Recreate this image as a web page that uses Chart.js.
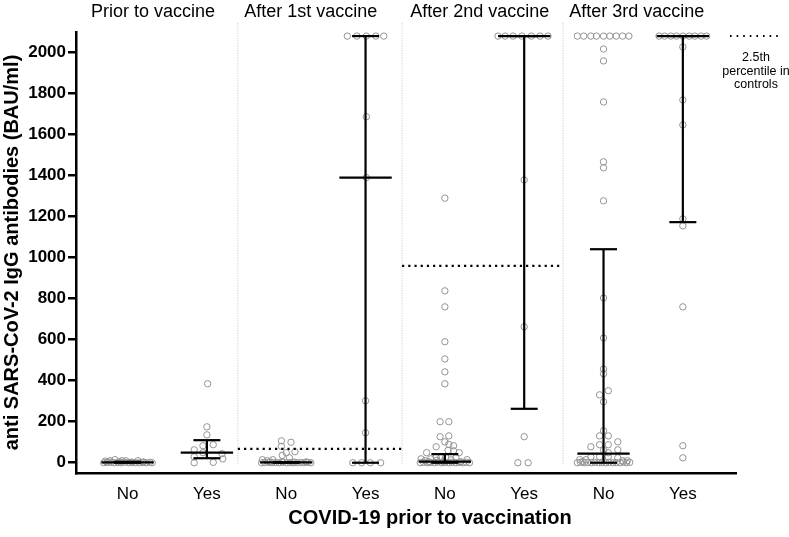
<!DOCTYPE html>
<html>
<head>
<meta charset="utf-8">
<script src="https://cdn.jsdelivr.net/npm/chart.js@4/dist/chart.umd.min.js"></script>
<style>
  html, body { margin: 0; padding: 0; background: #fff; }
</style>
</head>
<body>
<canvas id="c" width="789" height="537"></canvas>
<script>
// categories and panels
const categories = ['No', 'Yes', 'No', 'Yes', 'No', 'Yes', 'No', 'Yes'];
const panels = ['Prior to vaccine', 'After 1st vaccine', 'After 2nd vaccine', 'After 3rd vaccine'];
const yTicks = [0, 200, 400, 600, 800, 1000, 1200, 1400, 1600, 1800, 2000];

// individual subjects: [x (category + jitter), BAU/ml]
const priorNo = [[0.72,8],[0.78,10],[0.84,15],[0.93,10],[0.98,9],[1.13,10],
  [0.70,0],[0.74,1],[0.79,2],[0.83,0],[0.88,1],[0.92,0],[0.97,2],[1.02,0],[1.06,1],[1.10,0],[1.15,0],[1.19,1],[1.23,0],[1.28,2],[1.31,0],
  [0.75,4],[0.90,5],[1.05,3],[1.20,4]];
const priorYes = [[2.01,385],[2.0,175],[2.0,136],[1.95,83],[2.08,88],[1.84,63],[1.95,49],[2.19,44],[1.84,29],[2.2,19],[1.84,0],[2.08,2]];
const dose1No = [[2.94,107],[3.06,100],[2.94,80],[3.11,54],[3.0,49],[2.95,36],[3.04,24],[2.70,15],[2.83,15],[2.76,10],
  [2.69,0],[2.73,1],[2.78,2],[2.82,0],[2.87,1],[2.91,0],[2.96,2],[3.01,0],[3.05,1],[3.09,0],[3.14,0],[3.18,1],[3.22,0],[3.27,2],[3.31,0],
  [2.8,4],[2.95,5],[3.1,3],[3.25,4]];
const dose1Yes = [[3.77,2080],[3.89,2080],[4.01,2080],[4.13,2080],[4.23,2080],[4.01,1687],[4.01,1390],[4.0,302],[4.0,146],
  [3.84,0],[3.95,0],[4.06,0],[4.19,0]];
const dose2No = [[5,1290],[5,838],[5,760],[5,590],[5,506],[5,443],[5,385],[4.94,200],[5.05,200],[4.94,127],[5.05,131],[5,102],
  [4.89,78],[5.11,83],[5.05,90],[5.11,58],[5.04,60],[4.77,49],[5.18,49],[4.89,29],[4.95,30],[5.01,28],[5.14,24],[4.70,19],[4.82,19],
  [5.28,15],[4.75,10],[4.9,12],[5.08,14],
  [4.69,0],[4.73,2],[4.78,0],[4.82,1],[4.87,0],[4.91,3],[4.96,0],[5.0,1],[5.05,0],[5.09,2],[5.14,0],[5.18,1],[5.23,0],[5.27,2],[5.31,0],
  [4.8,5],[4.98,6],[5.2,5]];
const dose2Yes = [[5.67,2080],[5.76,2080],[5.86,2080],[5.97,2080],[6.09,2080],[6.20,2080],[6.30,2080],[6.0,1379],[6.0,663],[6.0,127],
  [5.92,0],[6.05,0]];
const dose3No = [[6.67,2080],[6.75,2080],[6.84,2080],[6.91,2080],[7.0,2080],[7.08,2080],[7.16,2080],[7.24,2080],[7.32,2080],
  [7,2017],[7,1959],[7,1759],[7,1467],[7,1438],[7,1277],[7,803],[7,608],[7,457],[7,434],[7.06,351],[6.95,331],[7,297],[7,156],
  [6.95,131],[7.06,131],[7.18,102],[6.84,78],[6.95,88],[7.06,88],[7.18,63],[7.06,49],[7.0,60],[6.84,29],[6.95,29],[7.06,29],[7.18,24],
  [7.24,10],[7.3,10],
  [6.70,15],[6.74,5],[6.78,15],[6.67,0],[6.71,2],[6.76,0],[6.8,1],[6.85,0],[6.89,2],[6.94,0],[6.98,1],[7.03,0],[7.07,2],[7.12,0],
  [7.16,1],[7.21,0],[7.25,3],[7.29,0],[7.33,2]];
const dose3Yes = [[7.70,2080],[7.77,2080],[7.85,2080],[7.92,2080],[8.0,2080],[8.08,2080],[8.15,2080],[8.23,2080],[8.30,2080],
  [8,2027],[8,1769],[8,1647],[8,1189],[8,1155],[8,760],[8,83],[8,24]];

// median and interquartile range per group
const medians = [2, 49, 2, 1390, 5, 2080, 44, 2080];
const q1 = [0, 22, 0, 0, 0, 263, 0, 1173];
const q3 = [5, 110, 3, 2080, 42, 2080, 1041, 2080];

// 2.5th percentile in controls, per panel (null = not shown)
const controlP025 = [null, 68, 960, null];

// layout bits (data units on x)
const panelEdges = [0.35, 2.39, 4.46, 6.49, 8.67];
const titleCenters = [1.32, 3.31, 5.44, 7.42];
const FONT = '"Liberation Sans", Arial, sans-serif';

const groups = [priorNo, priorYes, dose1No, dose1Yes, dose2No, dose2Yes, dose3No, dose3Yes];
const datasets = [];

function seg(x1, y1, x2, y2, extra) {
  return Object.assign({
    type: 'line', data: [{x: x1, y: y1}, {x: x2, y: y2}],
    borderColor: '#000', borderWidth: 2.2, pointRadius: 0, fill: false, order: 1
  }, extra || {});
}

groups.forEach(g => {
  datasets.push({
    type: 'scatter',
    data: g.map(p => ({x: p[0], y: p[1]})),
    pointRadius: 3.2,
    pointBorderColor: '#939393',
    pointBackgroundColor: 'rgba(0,0,0,0)',
    pointBorderWidth: 1,
    order: 3
  });
});

// error bars
medians.forEach((m, i) => {
  const x = i + 1;
  datasets.push(seg(x, q1[i], x, q3[i]));
  datasets.push(seg(x - 0.33, m, x + 0.33, m));
  datasets.push(seg(x - 0.17, q1[i], x + 0.17, q1[i]));
  datasets.push(seg(x - 0.17, q3[i], x + 0.17, q3[i]));
});

// panel separators
panelEdges.slice(1, 4).forEach(x => {
  datasets.push(seg(x, -5, x, 2150, {borderColor: '#c4c4c4', borderWidth: 1, borderDash: [1, 1.5], clip: false, order: 4}));
});

// control reference lines
controlP025.forEach((v, i) => {
  if (v == null) return;
  datasets.push(seg(panelEdges[i], v, panelEdges[i + 1], v, {borderWidth: 2.2, borderDash: [2.2, 4], order: 2}));
});

const decor = {
  id: 'decor',
  afterDraw(chart) {
    const ctx = chart.ctx;
    const xs = chart.scales.x;
    const area = chart.chartArea;
    ctx.save();
    ctx.fillStyle = '#000';
    ctx.textAlign = 'center';
    ctx.textBaseline = 'middle';
    ctx.font = '18px ' + FONT;
    panels.forEach((p, i) => ctx.fillText(p, xs.getPixelForValue(titleCenters[i]), 12));

    // legend
    ctx.strokeStyle = '#000';
    ctx.lineWidth = 2;
    ctx.setLineDash([1.6, 5]);
    ctx.beginPath();
    ctx.moveTo(area.right - 6, 36);
    ctx.lineTo(area.right + 44, 36);
    ctx.stroke();
    ctx.setLineDash([]);
    ctx.font = '12.5px ' + FONT;
    ['2.5th', 'percentile in', 'controls'].forEach((t, i) => ctx.fillText(t, area.right + 20, 58 + i * 13.5));

    // x title
    ctx.font = 'bold 20px ' + FONT;
    ctx.fillText('COVID-19 prior to vaccination', 430, 518);
    ctx.restore();
  }
};

new Chart(document.getElementById('c'), {
  type: 'scatter',
  data: { datasets },
  plugins: [decor],
  options: {
    responsive: false,
    devicePixelRatio: 1,
    animation: false,
    layout: { padding: { top: 32, right: 53, left: 0, bottom: 0 } },
    plugins: { legend: { display: false }, tooltip: { enabled: false } },
    scales: {
      x: {
        type: 'linear',
        min: panelEdges[0],
        max: panelEdges[4],
        afterFit: s => { s.height = 64; },
        afterBuildTicks: s => { s.ticks = categories.map((c, i) => ({ value: i + 1 })); },
        ticks: {
          padding: 11,
          color: '#000',
          font: { family: FONT, size: 17 },
          callback: v => categories[Math.round(v) - 1]
        },
        grid: { display: true, drawOnChartArea: false, drawTicks: false },
        border: { display: true, color: '#000', width: 2.5 }
      },
      y: {
        min: -50,
        max: 2100,
        afterFit: s => { s.width = 76; },
        afterBuildTicks: s => { s.ticks = yTicks.map(v => ({ value: v })); },
        ticks: {
          padding: 2,
          color: '#000',
          font: { family: FONT, size: 17, weight: 'bold' },
          callback: v => String(v)
        },
        grid: { display: true, drawOnChartArea: false, drawTicks: true, tickLength: 8, color: '#000', lineWidth: 2.5 },
        border: { display: true, color: '#000', width: 2.5 },
        title: {
          display: true,
          text: 'anti SARS-CoV-2 IgG antibodies (BAU/ml)',
          color: '#000',
          font: { family: FONT, size: 20, weight: 'bold' },
          padding: { top: 0, bottom: 0 }
        }
      }
    }
  }
});
</script>
</body>
</html>
